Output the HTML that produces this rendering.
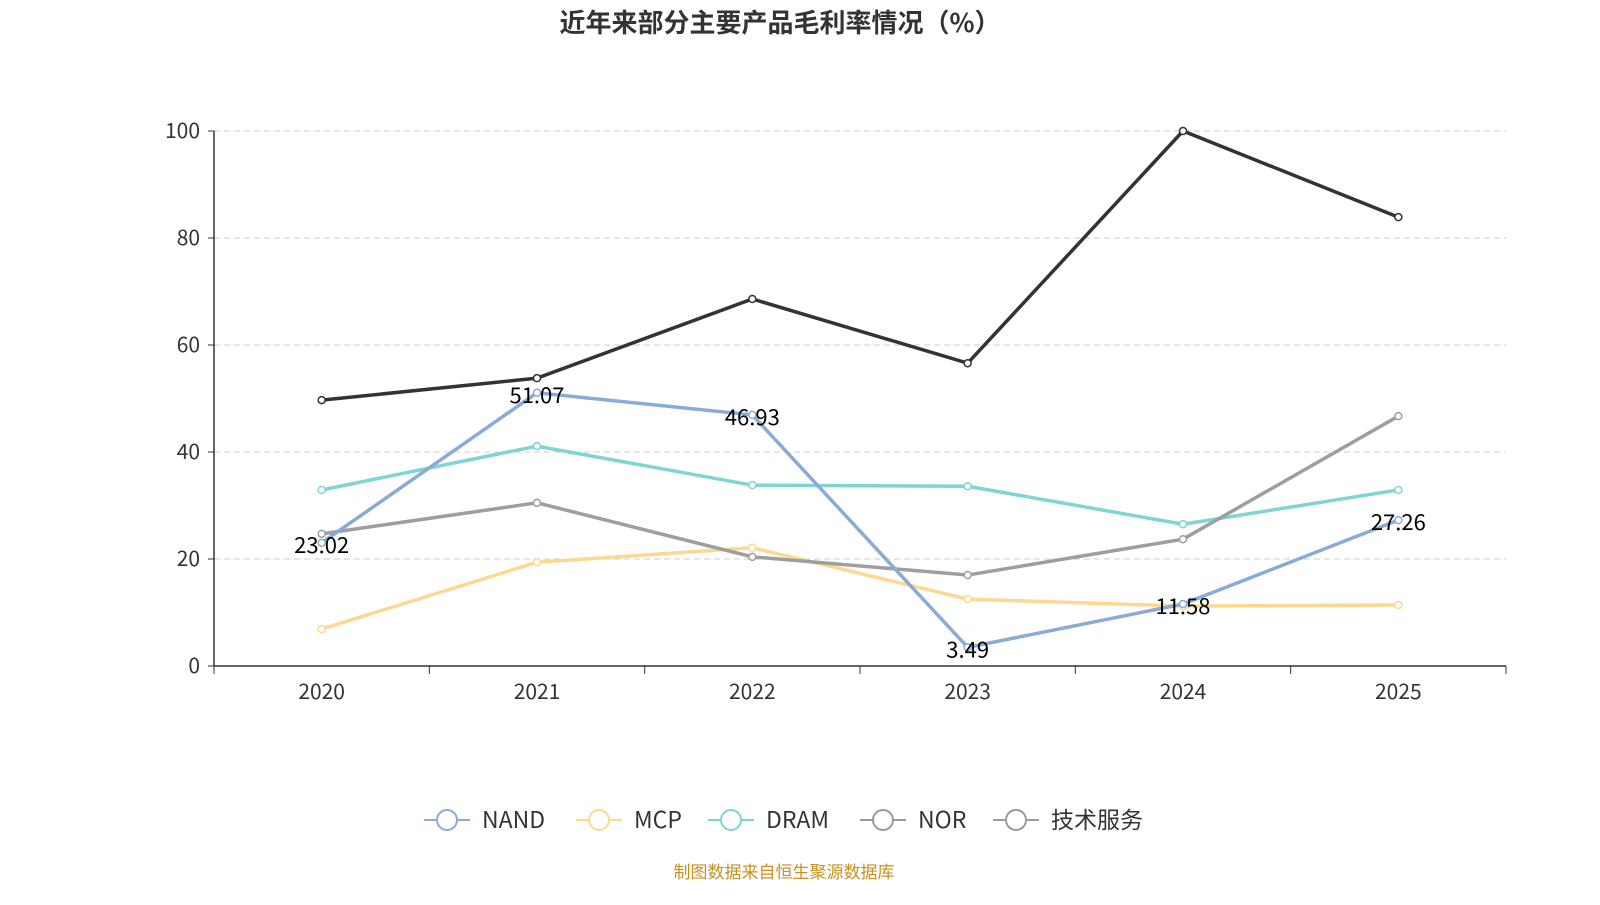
<!DOCTYPE html>
<html><head><meta charset="utf-8">
<style>
body{margin:0;background:#fff;width:1600px;height:900px;overflow:hidden;font-family:"Noto Sans CJK SC","Liberation Sans",sans-serif;}
svg text{font-family:"Noto Sans CJK SC","Liberation Sans",sans-serif;}
</style></head>
<body>
<svg id="chart" width="1600" height="900">
<text x="780" y="32" text-anchor="middle" font-size="26" font-weight="bold" fill="#333">近年来部分主要产品毛利率情况（%）</text>
<g id="grid"></g><g id="axes"></g><g id="series"></g><g id="legend"></g>
<text x="784" y="878" text-anchor="middle" font-size="17" fill="#c8901e">制图数据来自恒生聚源数据库</text>
</svg>
<script>
const categories=["2020","2021","2022","2023","2024","2025"];
const yTicks=[0,20,40,60,80,100];
const seriesNames=["NAND","MCP","DRAM","NOR","技术服务"];
const nand=[23.02,51.07,46.93,3.49,11.58,27.26];
const mcp=[6.9,19.4,22.1,12.5,11.2,11.4];
const dram=[32.9,41.1,33.8,33.6,26.5,32.9];
const nor=[49.7,53.8,68.6,56.6,100,83.9];
const tech=[24.7,30.5,20.4,17.0,23.7,46.7];
const colors=["#8aaad8","#fdd890","#7fd4d4","#333333","#9e9e9e"];
const legendColors=["#8aaad8","#fdd890","#7fd4d4","#999999","#999999"];
const NS="http://www.w3.org/2000/svg";
const x0=214,x1=1506,yb=666,yt=131;
const step=(x1-x0)/categories.length;
const X=i=>x0+step*(i+0.5);
const Y=v=>yb-(v/100)*(yb-yt);
function mk(tag,attrs,parent){const e=document.createElementNS(NS,tag);for(const k in attrs)e.setAttribute(k,attrs[k]);parent.appendChild(e);return e;}
const grid=document.getElementById('grid'),axes=document.getElementById('axes'),sg=document.getElementById('series'),lg=document.getElementById('legend');
yTicks.forEach(t=>{
 if(t>0){const l=mk('line',{x1:x0,x2:x1,y1:Y(t),y2:Y(t),stroke:'#ccc','stroke-dasharray':'6,4'},grid);
 
 }
 const tx=mk('text',{x:x0-14,y:Y(t)+7,'text-anchor':'end','font-size':21,fill:'#333'},axes);tx.textContent=t;
 
 
 mk('line',{x1:x0-6,x2:x0,y1:Y(t),y2:Y(t),stroke:'#333'},axes);
});
mk('line',{x1:x0,x2:x0,y1:yt,y2:yb,stroke:'#333','stroke-width':1.5},axes);
mk('line',{x1:x0,x2:x1,y1:yb,y2:yb,stroke:'#333','stroke-width':1.5},axes);
for(let i=0;i<=categories.length;i++)mk('line',{x1:x0+step*i,x2:x0+step*i,y1:yb,y2:yb+8,stroke:'#333'},axes);
categories.forEach((c,i)=>{const t=mk('text',{x:X(i),y:yb+33,'text-anchor':'middle','font-size':21,fill:'#333'},axes);t.textContent=c;
 
 });
const all=[nand,mcp,dram,nor,tech];
const order=[1,2,4,0,3];
order.forEach(s=>{
 const d=all[s];const g=mk('g',{},sg);
 
 
 mk('polyline',{points:d.map((v,i)=>X(i)+','+Y(v)).join(' '),fill:'none',stroke:colors[s],'stroke-width':3.5},g);
 d.forEach((v,i)=>{const c=mk('circle',{cx:X(i),cy:Y(v),r:3.5,fill:'#fff',stroke:colors[s],'stroke-width':1.5},g);
  
  });
});
nand.forEach((v,i)=>{const t=mk('text',{x:X(i),y:Y(v)+10,'text-anchor':'middle','font-size':22,fill:'#000'},sg);t.textContent=v.toFixed(2);
 
 });
const lx=[424,576,708,860,993];
seriesNames.forEach((n,i)=>{const g=mk('g',{},lg);
 
 
 mk('line',{x1:lx[i],x2:lx[i]+46,y1:820,y2:820,stroke:legendColors[i],'stroke-width':2},g);
 mk('circle',{cx:lx[i]+23,cy:820,r:10,fill:'#fff',stroke:legendColors[i],'stroke-width':2},g);
 const t=mk('text',{x:lx[i]+58,y:828,'font-size':23,fill:'#333'},g);t.textContent=n;});
</script>
</body></html>
